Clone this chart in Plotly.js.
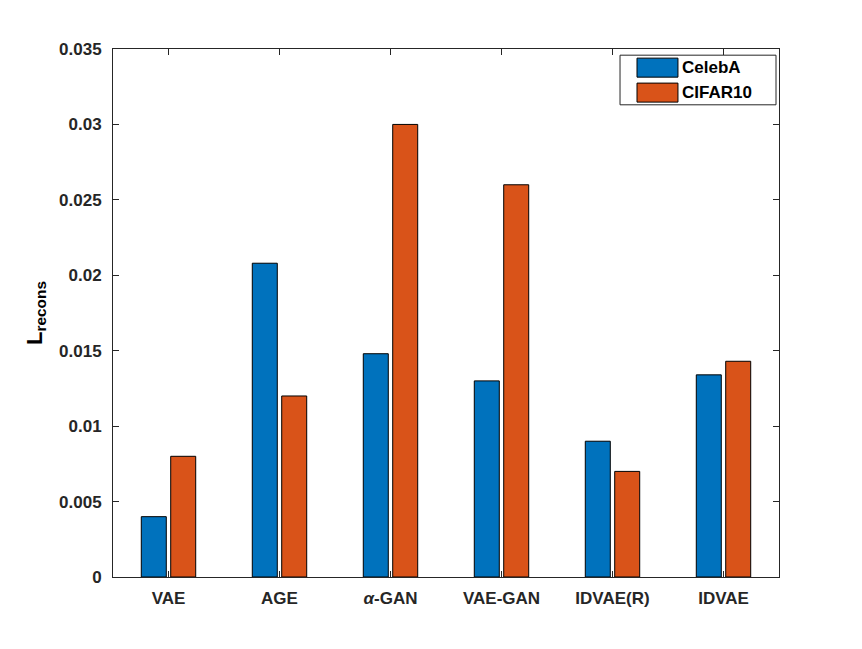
<!DOCTYPE html>
<html>
<head>
<meta charset="utf-8">
<script src="https://cdn.plot.ly/plotly-3.0.1.min.js"></script>
<style>
  html, body { margin: 0; padding: 0; background: #fff; }
  #myDiv { width: 862px; height: 649px; }
</style>
</head>
<body>
<div id="myDiv"></div>
<script>
var methods = ["VAE", "AGE", "<i>α</i>-GAN", "VAE-GAN", "IDVAE(R)", "IDVAE"];
var celebA = [0.004, 0.0208, 0.0148, 0.013, 0.009, 0.0134];
var cifar10 = [0.008, 0.012, 0.030, 0.026, 0.007, 0.0143];
var yTicks = [0, 0.005, 0.01, 0.015, 0.02, 0.025, 0.03, 0.035];
var yTickText = ["0", "0.005", "0.01", "0.015", "0.02", "0.025", "0.03", "0.035"];
var seriesNames = ["CelebA", "CIFAR10"];
var seriesColors = ["#0072BD", "#D95319"];

var idx = methods.map(function(m, i) { return i; });

var data = [celebA, cifar10].map(function(vals, k) {
    return {
        x: idx,
        y: vals,
        type: 'bar',
        name: seriesNames[k],
        marker: { color: seriesColors[k], line: { color: '#000', width: 1 } },
        showlegend: false
    };
});

var fontFam = 'Liberation Sans, Arial, sans-serif';
var axisFont = { family: fontFam, size: 17, color: '#262626', weight: 'bold' };

// hand-made legend box, MATLAB style
var shapes = [{
    type: 'rect', xref: 'paper', yref: 'paper',
    x0: 0.7613, x1: 0.9955, y0: 0.8943, y1: 0.9883,
    line: { color: '#262626', width: 1 }, fillcolor: '#fff'
}];
var annotations = [];
seriesNames.forEach(function(n, k) {
    var yc = 0.9647 - k * 0.0473;
    shapes.push({
        type: 'rect', xref: 'paper', yref: 'paper',
        x0: 0.7868, x1: 0.8483, y0: yc - 0.018, y1: yc + 0.018,
        line: { color: '#000', width: 1 }, fillcolor: seriesColors[k]
    });
    annotations.push({
        xref: 'paper', yref: 'paper', x: 0.852, y: yc,
        xanchor: 'left', yanchor: 'middle', showarrow: false,
        text: n,
        font: { family: fontFam, size: 17, color: '#000', weight: 'bold' }
    });
});

var layout = {
    width: 862,
    height: 649,
    margin: { l: 113, r: 83, t: 49, b: 72 },
    paper_bgcolor: '#fff',
    plot_bgcolor: '#fff',
    barmode: 'group',
    bargap: 0.47,
    bargroupgap: 0.15,
    xaxis: {
        range: [-0.5, 5.5],
        tickvals: idx,
        ticktext: methods,
        ticks: 'inside',
        ticklen: 6,
        tickcolor: '#262626',
        ticklabelstandoff: 6,
        showline: true,
        linecolor: '#262626',
        linewidth: 1,
        mirror: 'ticks',
        showgrid: false,
        zeroline: false,
        tickfont: axisFont
    },
    yaxis: {
        range: [0, 0.035],
        tickvals: yTicks,
        ticktext: yTickText,
        ticks: 'inside',
        ticklen: 6,
        tickcolor: '#262626',
        ticklabelstandoff: 7,
        showline: true,
        linecolor: '#262626',
        linewidth: 1,
        mirror: 'ticks',
        showgrid: false,
        zeroline: false,
        tickfont: axisFont,
        title: {
            text: 'L<sub>recons</sub>',
            standoff: 10,
            font: { family: fontFam, size: 22, color: '#000', weight: 'bold' }
        }
    },
    shapes: shapes,
    annotations: annotations
};

Plotly.newPlot('myDiv', data, layout, { displayModeBar: false });
</script>
</body>
</html>
